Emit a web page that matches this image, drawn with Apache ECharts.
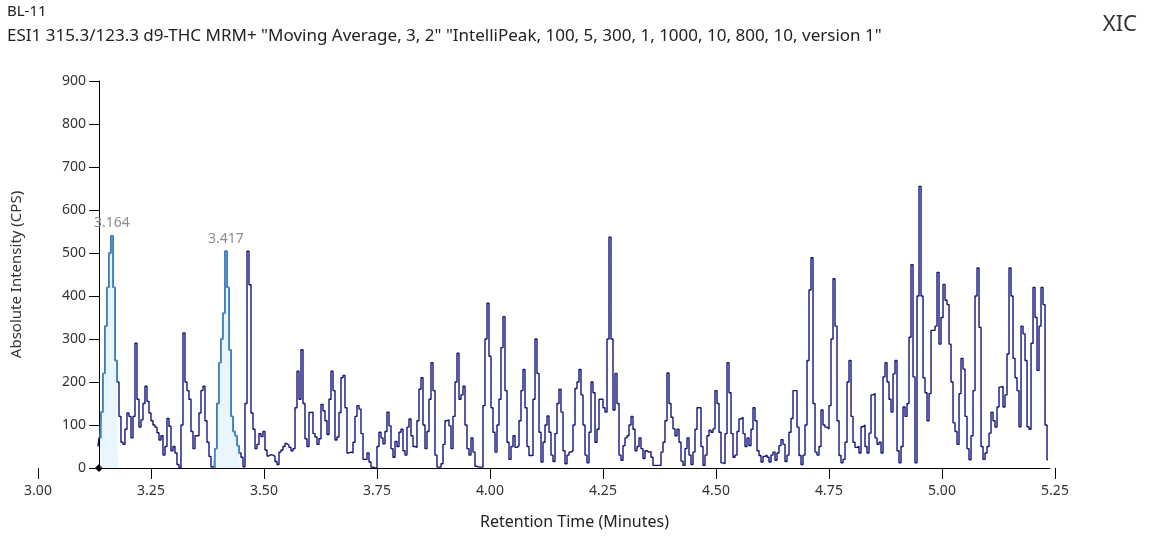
<!DOCTYPE html>
<html><head><meta charset="utf-8">
<script src="https://cdn.jsdelivr.net/npm/echarts@6/dist/echarts.min.js"></script>
<style>html,body{margin:0;padding:0;background:#fff;}#c{width:1151px;height:537px;}</style>
</head><body><div id="c"></div>
<script>
const sampleName = 'BL-11';
const traceInfo = 'ESI1 315.3/123.3 d9-THC MRM+ "Moving Average, 3, 2" "IntelliPeak, 100, 5, 300, 1, 1000, 10, 800, 10, version 1"';
const plotTag = 'XIC';
const xAxisTitle = 'Retention Time (Minutes)';
const yAxisTitle = 'Absolute Intensity (CPS)';
const xTickMin = 3.00, xTickMax = 5.25, xTickStep = 0.25;
const yTickMin = 0, yTickMax = 900, yTickStep = 100;
// acquisition window (axis origin) and sampling
const acqStart = 3.135, acqEnd = 5.239;
const startTime = 3.1327, timeStep = 0.004425;
const intensity = [
50,70,130,220,330,420,500,540,420,250,200,
120,60,55,90,128,120,70,120,290,160,
95,112,150,190,155,128,110,100,95,82,
65,75,30,50,115,97,40,50,35,8,
0,100,314,200,180,160,85,45,75,75,
128,180,190,110,60,27,3,0,45,150,
245,300,360,504,420,275,120,85,75,52,
35,25,3,150,504,426,128,90,45,55,
80,73,85,42,28,31,30,27,15,8,
37,42,50,57,53,48,40,45,140,225,
160,275,150,68,50,129,130,80,72,55,
68,148,133,110,78,160,225,180,65,72,
129,210,215,140,35,37,35,60,120,145,
137,80,20,20,35,14,2,0,0,50,
83,70,56,85,130,98,45,25,62,50,
83,90,40,30,95,114,75,50,48,110,
183,210,100,45,85,160,245,180,30,2,
2,10,55,110,112,98,45,120,200,267,
160,170,190,100,45,30,70,37,4,2,
2,2,145,300,383,260,140,83,37,100,
160,280,352,180,60,20,50,75,48,52,
110,180,229,140,50,29,29,160,300,220,
83,14,60,100,121,83,30,15,80,150,
183,130,40,10,30,37,40,100,185,200,
229,170,100,30,12,83,200,175,60,90,
160,160,140,130,300,537,300,135,220,150,
30,18,52,70,75,100,120,90,40,50,
70,45,22,40,37,38,25,6,6,6,
6,37,60,110,221,150,118,91,75,90,
60,16,6,45,70,30,8,37,90,140,
140,50,6,30,75,88,83,91,180,150,
83,12,10,80,245,175,80,25,30,85,
114,118,80,50,70,52,90,140,110,40,
29,14,27,30,25,14,30,37,18,35,
52,66,55,15,30,83,115,180,180,95,
29,8,30,100,250,414,489,150,37,30,
50,135,100,95,91,145,300,440,330,110,
29,12,20,60,200,250,120,60,48,50,
35,96,100,50,35,81,170,173,70,55,
60,35,212,245,200,160,130,219,250,40,
12,50,142,120,150,304,473,212,12,400,
655,400,210,175,110,173,320,320,330,455,
288,350,427,390,380,288,200,105,85,55,
173,255,230,120,45,19,75,180,400,465,
327,50,20,35,50,81,130,110,95,142,
188,190,142,170,265,465,400,255,210,180,
96,330,312,250,96,90,290,420,350,227,
330,420,380,100,19
];
const peakRanges = [[1, 10], [58, 71]];
const peakLabels = ['3.164', '3.417'];

const points = intensity.map((v, i) => [startTime + i * timeStep, v]);

const FONT = 'Noto Sans';
const chart = echarts.init(document.getElementById('c'), null, {renderer: 'canvas'});

const series = [{
  type: 'line', xAxisIndex: 0, yAxisIndex: 0, data: points,
  showSymbol: false, step: 'middle', z: 2,
  lineStyle: {color: '#14147a', width: 1.4}
}];
peakRanges.forEach((r, i) => {
  series.push({
    type: 'line', xAxisIndex: 0, yAxisIndex: 0,
    data: points.slice(r[0], r[1] + 1),
    showSymbol: false, step: 'middle', z: 3,
    lineStyle: {color: '#3a8fc6', width: 1.4},
    areaStyle: {color: 'rgba(200,232,250,0.55)'},
    markPoint: {
      symbol: 'circle', symbolSize: 1, itemStyle: {color: 'rgba(0,0,0,0)'},
      data: [{type: 'max'}],
      label: {show: true, position: 'top', distance: 5, formatter: peakLabels[i],
        color: '#8c8c8c', fontSize: 14, fontFamily: FONT}
    }
  });
});

chart.setOption({
  animation: false,
  backgroundColor: '#fff',
  textStyle: {fontFamily: FONT},
  title: [
    {text: sampleName, left: 7, top: 4, padding: 0, textStyle: {fontSize: 15, fontWeight: 'normal', color: '#222', fontFamily: FONT}},
    {text: traceInfo, left: 7, top: 28, padding: 0, textStyle: {fontSize: 17, fontWeight: 'normal', color: '#222', fontFamily: FONT}},
    {text: plotTag, right: 14, top: 14, padding: 0, textStyle: {fontSize: 22, fontWeight: 'normal', color: '#333', fontFamily: FONT}}
  ],
  grid: [
    {left: 38, right: 96, top: 81, bottom: 69},
    {left: 99, right: 101, top: 81, bottom: 69}
  ],
  xAxis: [
    {type: 'value', gridIndex: 0, min: xTickMin, max: xTickMax, interval: xTickStep,
      axisLine: {show: false}, splitLine: {show: false},
      axisTick: {show: true, length: 11, lineStyle: {color: '#000'}},
      axisLabel: {formatter: v => v.toFixed(2), color: '#333', fontSize: 14, margin: 16, fontFamily: FONT}},
    {type: 'value', gridIndex: 1, min: acqStart, max: acqEnd,
      axisLine: {show: true, lineStyle: {color: '#000', width: 1}},
      axisTick: {show: false}, axisLabel: {show: false}, splitLine: {show: false},
      name: xAxisTitle, nameLocation: 'middle', nameGap: 46,
      nameTextStyle: {fontSize: 16, color: '#222', fontFamily: FONT}}
  ],
  yAxis: [
    {type: 'value', gridIndex: 0, min: yTickMin, max: yTickMax, show: false},
    {type: 'value', gridIndex: 1, min: yTickMin, max: yTickMax, interval: yTickStep,
      axisLine: {show: true, lineStyle: {color: '#000', width: 1}, symbol: ['diamond', 'none'], symbolSize: [8, 8]},
      axisTick: {show: true, length: 10, lineStyle: {color: '#000'}},
      axisLabel: {color: '#333', fontSize: 14, margin: 13, fontFamily: FONT},
      splitLine: {show: false},
      name: yAxisTitle, nameLocation: 'middle', nameGap: 75, nameRotate: 90,
      nameTextStyle: {fontSize: 15, color: '#333', fontFamily: FONT}}
  ],
  series: series
});
</script></body></html>
